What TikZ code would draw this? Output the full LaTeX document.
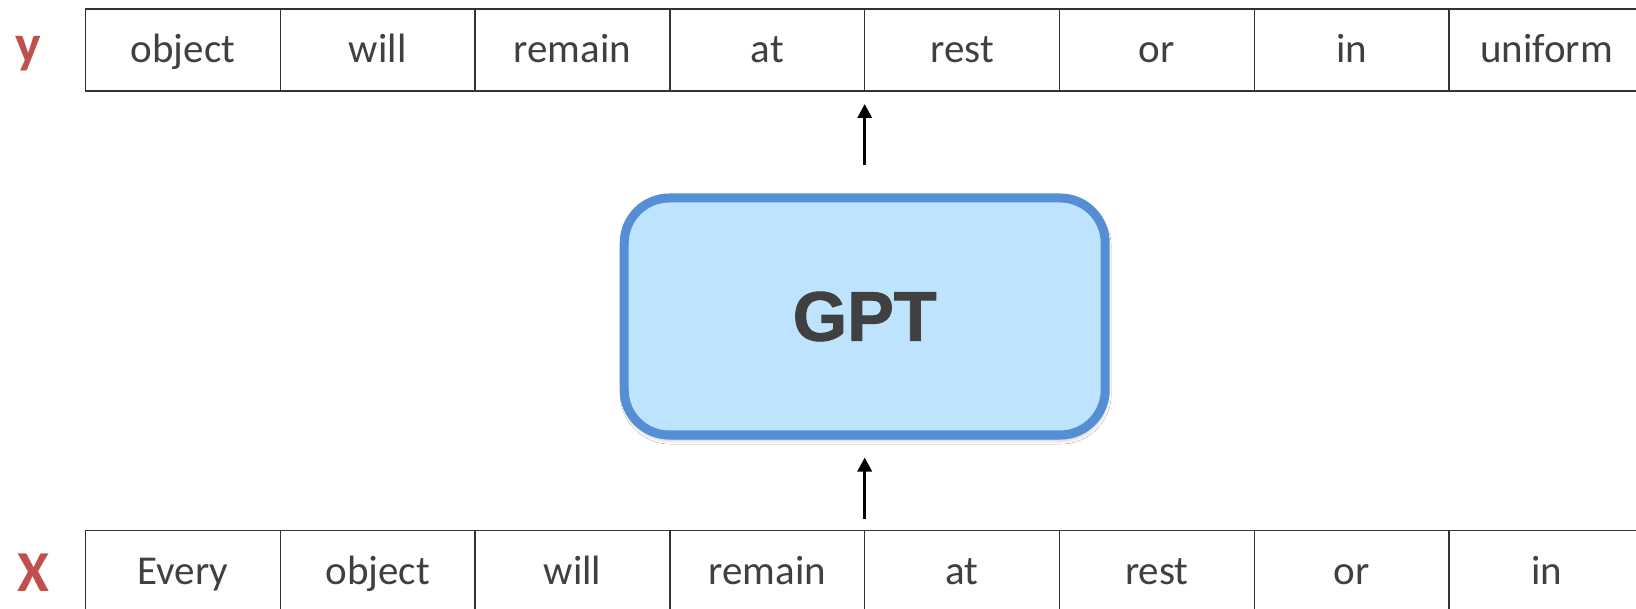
\documentclass[tikz,border=0pt]{standalone}
\usepackage{fontspec}
\setmainfont{Carlito}
\newfontfamily\gptfont{Liberation Sans}[BoldFeatures={FakeBold=1.3}]
\usetikzlibrary{arrows.meta,shadows.blur}
\definecolor{txtgray}{HTML}{404040}
\definecolor{linegray}{HTML}{333333}
\definecolor{labelred}{HTML}{C0504D}
\definecolor{gptfill}{HTML}{BDE4FC}
\definecolor{gptborder}{HTML}{558ED5}
\begin{document}
\begin{tikzpicture}[x=1pt,y=-1pt,
  cell/.style={draw=linegray, line width=1.5pt, minimum width=194.8pt,
    minimum height=82pt, inner sep=0pt, outer sep=0pt,
    text=txtgray, font=\fontsize{41}{49}\selectfont,
    text height=30pt, text depth=4pt},
  rowlabel/.style={anchor=base, text=labelred, inner sep=0pt},
  model/.style={draw=gptborder, line width=9pt, fill=gptfill,
    rounded corners=45pt, minimum width=481pt, minimum height=237pt,
    text=txtgray, font=\gptfont\bfseries\fontsize{70}{80}\selectfont,
    blur shadow={shadow xshift=1pt, shadow yshift=-4pt,
      shadow blur radius=5pt, shadow opacity=35}},
  flow/.style={line width=3.2pt, -{Triangle[width=14pt,length=14pt]}}]
  \useasboundingbox (0,0) rectangle (1636,609);
  \clip (0,0) rectangle (1636,609);
  \fill[white] (0,0) rectangle (1636,609);

  % output tokens (top row)
  \foreach \w [count=\i from 0] in {object,will,remain,at,rest,or,in,uniform}
    \node[cell] (t\i) at ({85.5+194.8*\i+97.4},50) {\w};
  % input tokens (bottom row)
  \foreach \w [count=\i from 0] in {Every,object,will,remain,at,rest,or,in}
    \node[cell] (b\i) at ({85.5+194.8*\i+97.4},571.7) {\w};

  % row labels
  \node[rowlabel, font=\bfseries\fontsize{54}{64}\selectfont] (ylab) at (28,63) {y};
  \node[rowlabel, font=\bfseries\fontsize{58}{68}\selectfont] (xlab) at (33,591) {X};

  % the model
  \node[model] (gpt) at (864.7,316.5) {GPT};

  % data flow
  \draw[flow, shorten <=11.7pt, shorten >=18pt] (b4.north west) -- (b4.north west |- gpt.south);
  \draw[flow, shorten <=28pt, shorten >=13pt] (t4.south west |- gpt.north) -- (t4.south west);
\end{tikzpicture}
\end{document}
